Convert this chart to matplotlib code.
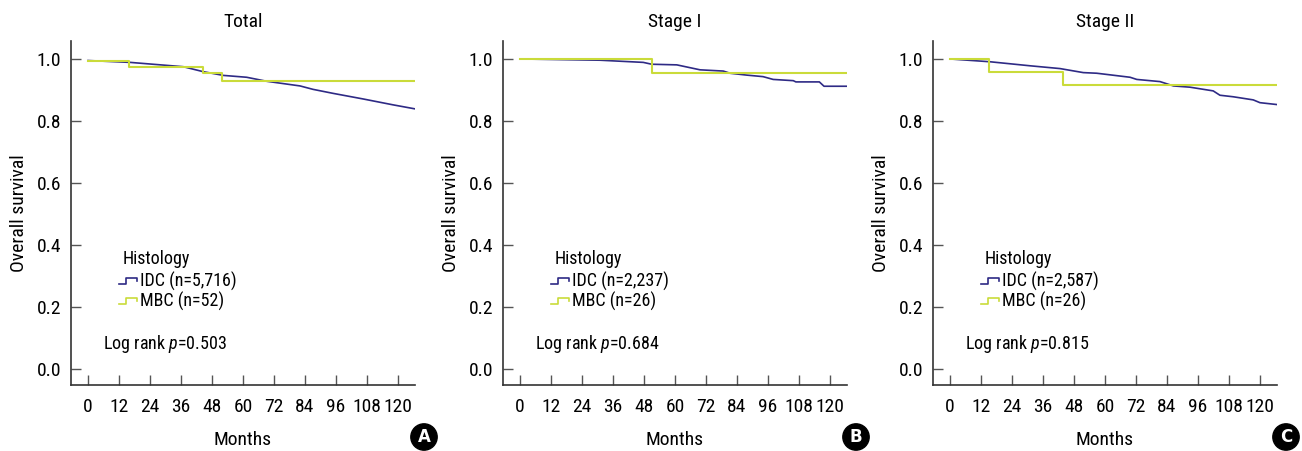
import numpy as np
import matplotlib
matplotlib.use('Agg')
import matplotlib.pyplot as plt
from matplotlib.lines import Line2D
from matplotlib.legend_handler import HandlerBase

plt.rcParams['font.family'] = ['Roboto Condensed', 'DejaVu Sans']
plt.rcParams['mathtext.fontset'] = 'custom'
plt.rcParams['mathtext.it'] = 'Roboto Condensed:italic'
plt.rcParams['mathtext.rm'] = 'Roboto Condensed'

# Panel titles, legend labels, p-values
titles = ['Total', 'Stage I', 'Stage II']
panel_letters = ['A', 'B', 'C']
idc_labels = ['IDC (n=5,716)', 'IDC (n=2,237)', 'IDC (n=2,587)']
mbc_labels = ['MBC (n=52)', 'MBC (n=26)', 'MBC (n=26)']
pvalues = ['0.503', '0.684', '0.815']

# IDC curves (months, survival)
idc_t_total = [0, 16.3, 36.9, 44.6, 52.4, 61.4, 69.2, 82.1, 87.1, 94.9, 106.5, 118.1, 126.6]
idc_s_total = [0.995, 0.989, 0.975, 0.959, 0.947, 0.941, 0.928, 0.913, 0.902, 0.889, 0.871, 0.852, 0.839]
idc_t_s1 = [0, 31, 47.7, 51, 60.7, 69.7, 78.7, 81.3, 87.7, 94.1, 98, 105.8, 106.8, 115.9, 117.7, 126.4]
idc_s_s1 = [1.0, 0.996, 0.989, 0.983, 0.981, 0.965, 0.961, 0.954, 0.948, 0.943, 0.934, 0.930, 0.926, 0.926, 0.912, 0.912]
idc_t_s2 = [0, 15.5, 31, 42.6, 51.6, 56.8, 69.7, 72.3, 81.3, 86.5, 92.9, 101.9, 104.5, 109.7, 117.4, 120, 126.5]
idc_s_s2 = [1.0, 0.991, 0.978, 0.969, 0.956, 0.954, 0.941, 0.934, 0.927, 0.913, 0.909, 0.897, 0.883, 0.878, 0.868, 0.859, 0.853]

# MBC step curves
mbc_t_total = [0, 16.0, 44.6, 51.7, 126.6]
mbc_s_total = [0.995, 0.975, 0.956, 0.930, 0.930]
mbc_t_s1 = [0, 51.0, 126.4]
mbc_s_s1 = [1.0, 0.955, 0.955]
mbc_t_s2 = [0, 15.2, 43.9, 126.5]
mbc_s_s2 = [1.0, 0.959, 0.916, 0.916]

idc_t = [idc_t_total, idc_t_s1, idc_t_s2]
idc_s = [idc_s_total, idc_s_s1, idc_s_s2]
mbc_t = [mbc_t_total, mbc_t_s1, mbc_t_s2]
mbc_s = [mbc_s_total, mbc_s_s1, mbc_s_s2]

xticks = list(range(0, 121, 12))
yticks = [0.0, 0.2, 0.4, 0.6, 0.8, 1.0]

IDC_COLOR = '#2e2a85'
MBC_COLOR = '#cadb3a'
FS = 13


class StepHandler(HandlerBase):
    # small step glyph for the legend
    def create_artists(self, legend, orig_handle, xdescent, ydescent,
                       width, height, fontsize, trans):
        x0, w, h = -xdescent, width, height
        xs = [x0, x0 + 0.4 * w, x0 + 0.4 * w, x0 + w, x0 + w]
        ys = [0.2 * h, 0.2 * h, 0.7 * h, 0.7 * h, 0.45 * h]
        ln = Line2D(xs, ys, color=orig_handle.get_color(), lw=1.2, transform=trans)
        return [ln]


fig = plt.figure(figsize=(13.02, 4.51), dpi=100)
lefts = [71, 503, 933]
for i in range(3):
    ax = fig.add_axes([lefts[i] / 1302, 1 - 385 / 451, 344 / 1302, 344 / 451])
    h1, = ax.plot(idc_t[i], idc_s[i], color=IDC_COLOR, lw=1.2)
    h2, = ax.step(mbc_t[i], mbc_s[i], where='post', color=MBC_COLOR, lw=1.5)

    ax.set_xlim(-6.6, 126.6)
    ax.set_ylim(-0.052, 1.058)
    ax.set_xticks(xticks)
    ax.set_yticks(yticks)
    ax.set_yticklabels(['%.1f' % v for v in yticks])
    ax.tick_params(direction='in', length=7, width=1, color='#555555',
                   labelsize=FS + 1, pad=7)
    ax.tick_params(axis='x', pad=9)
    for side in ['top', 'right']:
        ax.spines[side].set_visible(False)
    for side in ['left', 'bottom']:
        ax.spines[side].set_color('#333333')
        ax.spines[side].set_linewidth(1.2)

    ax.set_title(titles[i], fontsize=FS + 1, pad=10)
    ax.set_xlabel('Months', fontsize=FS + 1, labelpad=11)
    ax.set_ylabel('Overall survival', fontsize=FS + 1, labelpad=6)

    ax.text(13.2, 0.355, 'Histology', fontsize=FS, va='center', ha='left')
    ax.legend([h1, h2], [idc_labels[i], mbc_labels[i]],
              handler_map={Line2D: StepHandler()},
              loc='upper left', bbox_to_anchor=(0.14, 0.33),
              frameon=False, fontsize=FS, handlelength=1.0, handletextpad=0.15,
              labelspacing=0.05, borderpad=0, borderaxespad=0)
    ax.text(5.8, 0.08, 'Log rank $\\mathit{p}$=' + pvalues[i], fontsize=FS,
            va='center', ha='left')

    # circled panel letter
    cx = (lefts[i] + 353) / 1302
    fig.text(cx, 1 - 437 / 451, panel_letters[i], fontsize=12, fontweight='bold',
             color='white', ha='center', va='center', family='DejaVu Sans',
             bbox=dict(boxstyle='circle,pad=0.25', fc='black', ec='black'))

fig.savefig('out.png', dpi=100)
